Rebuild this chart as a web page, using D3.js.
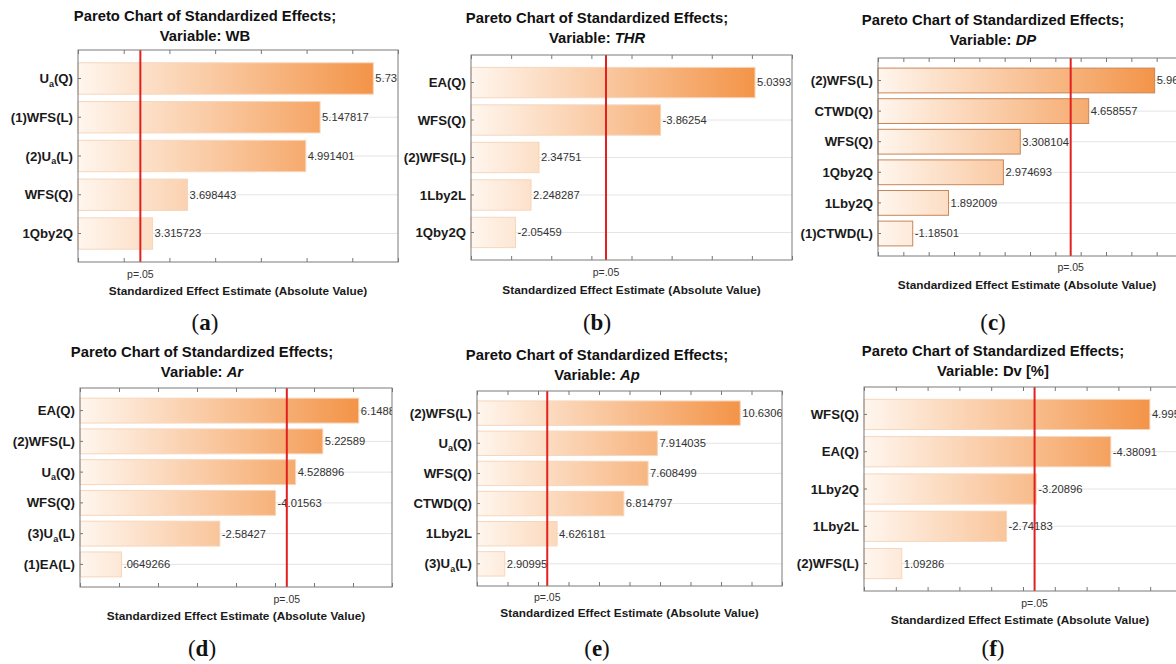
<!DOCTYPE html>
<html>
<head>
<meta charset="utf-8">
<script src="https://cdn.jsdelivr.net/npm/d3@7"></script>
<style>
  body { margin: 0; background: #fff; }
  svg { display: block; }
  text { font-family: "Liberation Sans", Arial, sans-serif; }
</style>
</head>
<body>
<svg id="chart" width="1176" height="664"></svg>
<script>
// ---- data ----
const wbTerms = ["U_a(Q)", "(1)WFS(L)", "(2)U_a(L)", "WFS(Q)", "1Qby2Q"];
const wbEffects = [5.73, 5.147817, 4.991401, 3.698443, 3.315723];

const thrTerms = ["EA(Q)", "WFS(Q)", "(2)WFS(L)", "1Lby2L", "1Qby2Q"];
const thrEffects = [5.0393, -3.86254, 2.34751, 2.248287, -2.05459];

const dpTerms = ["(2)WFS(L)", "CTWD(Q)", "WFS(Q)", "1Qby2Q", "1Lby2Q", "(1)CTWD(L)"];
const dpEffects = [5.96, 4.658557, 3.308104, 2.974693, 1.892009, -1.18501];

const arTerms = ["EA(Q)", "(2)WFS(L)", "U_a(Q)", "WFS(Q)", "(3)U_a(L)", "(1)EA(L)"];
const arEffects = [6.1488, 5.22589, 4.528896, -4.01563, -2.58427, 0.0649266];

const apTerms = ["(2)WFS(L)", "U_a(Q)", "WFS(Q)", "CTWD(Q)", "1Lby2L", "(3)U_a(L)"];
const apEffects = [10.6306, 7.914035, 7.608499, 6.814797, 4.626181, 2.90995];

const dvTerms = ["WFS(Q)", "EA(Q)", "1Lby2Q", "1Lby2L", "(2)WFS(L)"];
const dvEffects = [4.995, -4.38091, -3.20896, -2.74183, 1.09286];

const variableNames = ["WB", "THR", "DP", "Ar", "Ap", "Dv [%]"];
const variableItalic = [false, true, true, true, true, false];
const subLetters = ["a", "b", "c", "d", "e", "f"];
// critical t at p = .05 (the red line)
const critValues = [3.182, 3.182, 4.303, 4.303, 4.303, 3.182];
// x axis range used by each chart (no tick labels shown)
const axisDomains = [[2.5, 6], [1.5, 5.5], [0.5, 6.5], [-1, 7], [2, 12], [0.5, 5.5]];

const allTerms = [wbTerms, thrTerms, dpTerms, arTerms, apTerms, dvTerms];
const allEffects = [wbEffects, thrEffects, dpEffects, arEffects, apEffects, dvEffects];

// ---- layout of each panel (pixel boxes) ----
const layout = [
  {l: 78,  r: 398,  t: 50,  b: 262, cx: 205, ty: 16,  pY: 274, xlY: 291, subY: 322},
  {l: 471, r: 792,  t: 55,  b: 260, cx: 597, ty: 18,  pY: 272, xlY: 290, subY: 322},
  {l: 878, r: 1182, t: 58,  b: 256, cx: 993, ty: 20,  pY: 267, xlY: 285, subY: 322},
  {l: 80,  r: 392,  t: 388, b: 587, cx: 202, ty: 352, pY: 599, xlY: 616, subY: 648},
  {l: 477, r: 782,  t: 391, b: 586, cx: 597, ty: 355, pY: 597, xlY: 613, subY: 648},
  {l: 864, r: 1182, t: 387, b: 591, cx: 993, ty: 351, pY: 603, xlY: 620, subY: 648}
];

const svg = d3.select("#chart");
const defs = svg.append("defs");

/** writes a term like "U_a(Q)" with the a as subscript */
function writeTerm(sel, term) {
  const parts = term.split("_");
  if (parts.length === 1) { sel.text(term); return; }
  sel.append("tspan").text(parts[0]);
  sel.append("tspan").attr("font-size", "9px").attr("dy", 3.5).text(parts[1].charAt(0));
  sel.append("tspan").attr("dy", -3.5).text(parts[1].slice(1));
}

/** Statistica drops the leading zero: 0.0649 -> .0649 */
function fmtEffect(v) {
  return String(v).replace(/^(-?)0\./, "$1.");
}

function drawPanel(i) {
  const L = layout[i];
  const terms = allTerms[i];
  const effects = allEffects[i];
  const g = svg.append("g");

  const x = d3.scaleLinear().domain(axisDomains[i]).range([L.l, L.r]);
  const y = d3.scaleBand().domain(terms).range([L.t, L.b])
    .paddingInner(0.19).paddingOuter(0.33);

  // title
  const title = g.append("text").attr("x", L.cx).attr("y", L.ty)
    .attr("text-anchor", "middle").attr("font-weight", "bold")
    .attr("font-size", "14.8px").attr("fill", "#111");
  title.append("tspan").attr("x", L.cx).attr("dy", "0.35em").text("Pareto Chart of Standardized Effects;");
  title.append("tspan").attr("x", L.cx).attr("dy", 19.5).text("Variable: ");
  title.append("tspan").attr("font-style", variableItalic[i] ? "italic" : "normal").text(variableNames[i]);

  // gradient across the plot
  const gradId = "grad" + i;
  const grad = defs.append("linearGradient").attr("id", gradId)
    .attr("gradientUnits", "userSpaceOnUse")
    .attr("x1", L.l).attr("x2", x(d3.max(effects, d => Math.abs(d)))).attr("y1", 0).attr("y2", 0);
  grad.append("stop").attr("offset", "0%").attr("stop-color", "#fff6ee");
  grad.append("stop").attr("offset", "100%").attr("stop-color", "#f39448");

  const clipId = "clip" + i;
  defs.append("clipPath").attr("id", clipId).append("rect")
    .attr("x", L.l).attr("y", L.t).attr("width", L.r - L.l).attr("height", L.b - L.t);

  // faint grid at bar centres
  g.selectAll(".grid").data(terms).enter().append("line")
    .attr("x1", L.l).attr("x2", L.r)
    .attr("y1", d => y(d) + y.bandwidth() / 2).attr("y2", d => y(d) + y.bandwidth() / 2)
    .attr("stroke", "#e4e4e4").attr("stroke-width", 1);

  // bars
  g.selectAll(".bar").data(terms).enter().append("rect")
    .attr("x", L.l)
    .attr("y", d => y(d))
    .attr("width", (d, k) => x(Math.abs(effects[k])) - L.l)
    .attr("height", y.bandwidth())
    .attr("fill", "url(#" + gradId + ")")
    .attr("stroke", i === 2 ? "#c98658" : "#f6d6bc")
    .attr("stroke-width", 1);

  // value labels
  g.append("g").attr("clip-path", "url(#" + clipId + ")")
    .selectAll("text").data(terms).enter().append("text")
    .attr("x", (d, k) => x(Math.abs(effects[k])) + 2)
    .attr("y", d => y(d) + y.bandwidth() / 2)
    .attr("dy", "0.35em")
    .attr("font-size", "11.2px").attr("fill", "#333")
    .text((d, k) => fmtEffect(effects[k]));

  // critical value line
  g.append("line")
    .attr("x1", x(critValues[i])).attr("x2", x(critValues[i]))
    .attr("y1", L.t).attr("y2", L.b)
    .attr("stroke", "#e3201f").attr("stroke-width", 2);

  // frame with inward ticks
  const major = d3.range(Math.ceil(axisDomains[i][0] * 2) / 2, axisDomains[i][1] + 0.001,
    (axisDomains[i][1] - axisDomains[i][0]) > 6 ? 1 : 0.5);
  const bottomAxis = d3.axisBottom(x).tickValues(major).tickSize(-4).tickFormat("");
  const topAxis = d3.axisTop(x).tickValues(major).tickSize(-4).tickFormat("");
  const ga = g.append("g").attr("transform", "translate(0," + L.b + ")").call(bottomAxis);
  const gt = g.append("g").attr("transform", "translate(0," + L.t + ")").call(topAxis);
  [ga, gt].forEach(s => {
    s.select(".domain").remove();
    s.selectAll("line").attr("stroke", "#777");
  });
  const leftAxis = d3.axisLeft(y).tickSize(-3).tickFormat("");
  const gl = g.append("g").attr("transform", "translate(" + L.l + ",0)").call(leftAxis);
  gl.select(".domain").remove();
  gl.selectAll("line").attr("stroke", "#777");

  g.append("rect").attr("x", L.l).attr("y", L.t)
    .attr("width", L.r - L.l).attr("height", L.b - L.t)
    .attr("fill", "none").attr("stroke", "#7a7a7a").attr("stroke-width", 1);

  // category labels
  g.selectAll(".term").data(terms).enter().append("text")
    .attr("x", L.l - 5)
    .attr("y", d => y(d) + y.bandwidth() / 2)
    .attr("dy", "0.35em")
    .attr("text-anchor", "end").attr("font-weight", "bold")
    .attr("font-size", "13.2px").attr("fill", "#1a1a1a")
    .each(function(d) { writeTerm(d3.select(this), d); });

  // p=.05 marker
  g.append("text").attr("x", x(critValues[i])).attr("y", L.pY).attr("dy", "0.35em")
    .attr("text-anchor", "middle").attr("font-size", "10.5px").attr("fill", "#333")
    .text("p=.05");

  // axis title
  g.append("text").attr("x", (L.l + Math.min(L.r, 1176)) / 2).attr("y", L.xlY).attr("dy", "0.35em")
    .attr("text-anchor", "middle").attr("font-weight", "bold")
    .attr("font-size", "11.8px").attr("fill", "#1a1a1a")
    .text("Standardized Effect Estimate (Absolute Value)");

  // sub caption
  const sub = g.append("text").attr("x", L.cx).attr("y", L.subY).attr("dy", "0.35em")
    .attr("text-anchor", "middle").attr("font-size", "23px").attr("fill", "#111")
    .style("font-family", "'Liberation Serif', 'Times New Roman', serif");
  sub.append("tspan").text("(");
  sub.append("tspan").attr("font-weight", "bold").text(subLetters[i]);
  sub.append("tspan").text(")");
}

for (let i = 0; i < 6; ++i) {
  drawPanel(i);
}
</script>
</body>
</html>
